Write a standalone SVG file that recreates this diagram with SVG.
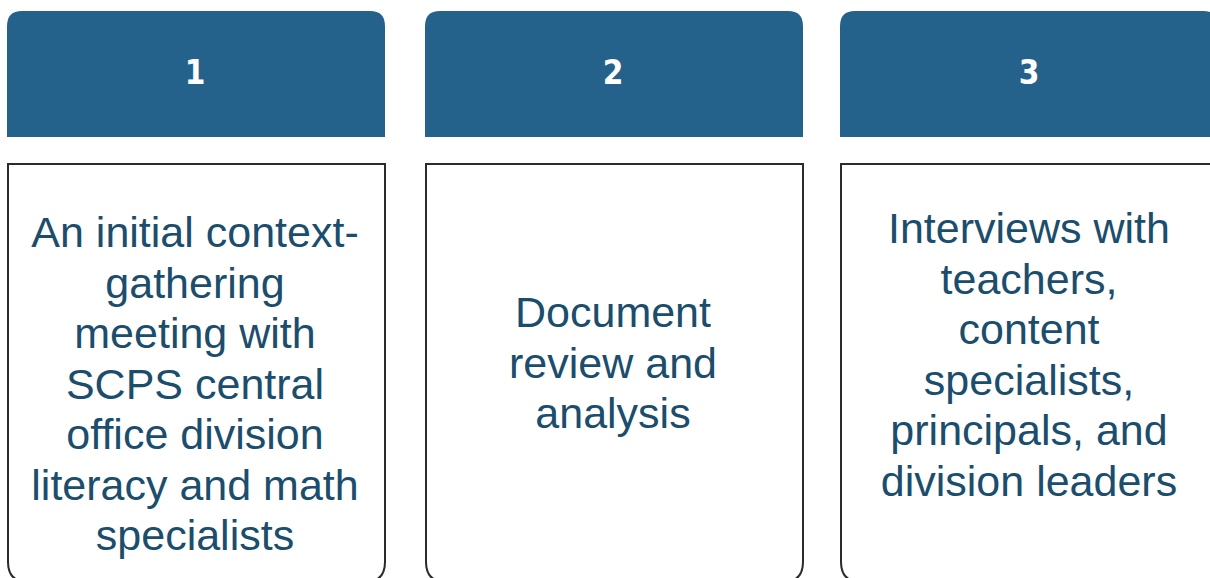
<svg xmlns="http://www.w3.org/2000/svg" width="1210" height="578" viewBox="0 0 1210 578">
  <style>
    .head { fill: #24628c; }
    .num { font-family: "DejaVu Sans Condensed", "DejaVu Sans", sans-serif; font-stretch: condensed; font-weight: bold; font-size: 33px; fill: #ffffff; text-anchor: middle; }
    .body { fill: #ffffff; stroke: #2b2b2b; stroke-width: 2; }
    .txt { font-family: "Liberation Sans", Arial, sans-serif; font-size: 43px; fill: #1b4d6d; text-anchor: middle; }
  </style>
  <defs>
    <!-- header tab: rounded top corners, square bottom -->
    <path id="tab" d="M0,137 V26 Q0,11 15,11 H363 Q378,11 378,26 V137 Z"/>
    <!-- content card: square top, rounded bottom corners -->
    <path id="card" d="M0,164 H377 V562 Q377,582 357,582 H20 Q0,582 0,562 Z"/>
  </defs>

  <g id="step1">
    <use href="#tab" x="7" class="head"/>
    <text class="num" x="195" y="84">1</text>
    <use href="#card" x="8" class="body"/>
    <text class="txt" x="195" y="247">An initial context-</text>
    <text class="txt" x="195" y="297.5">gathering</text>
    <text class="txt" x="195" y="348">meeting with</text>
    <text class="txt" x="195" y="398.5">SCPS central</text>
    <text class="txt" x="195" y="449">office division</text>
    <text class="txt" x="195" y="499.5">literacy and math</text>
    <text class="txt" x="195" y="550">specialists</text>
  </g>

  <g id="step2">
    <use href="#tab" x="425" class="head"/>
    <text class="num" x="613" y="84">2</text>
    <use href="#card" x="426" class="body"/>
    <text class="txt" x="613" y="327">Document</text>
    <text class="txt" x="613" y="377.5">review and</text>
    <text class="txt" x="613" y="428">analysis</text>
  </g>

  <g id="step3">
    <use href="#tab" x="840" class="head"/>
    <text class="num" x="1029" y="84">3</text>
    <use href="#card" x="841" class="body"/>
    <text class="txt" x="1029" y="243">Interviews with</text>
    <text class="txt" x="1029" y="293.5">teachers,</text>
    <text class="txt" x="1029" y="344">content</text>
    <text class="txt" x="1029" y="394.5">specialists,</text>
    <text class="txt" x="1029" y="445">principals, and</text>
    <text class="txt" x="1029" y="495.5">division leaders</text>
  </g>

  <g id="connectors"></g>
</svg>
